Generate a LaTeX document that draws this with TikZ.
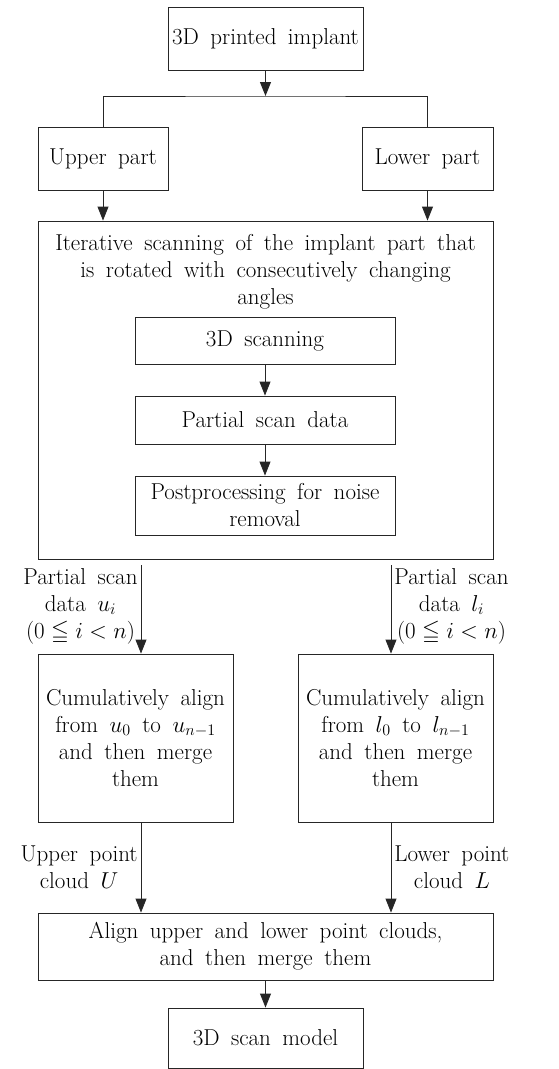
\RequirePackage{fix-cm}
\documentclass[tikz,border=0pt]{standalone}
\usepackage{amssymb}
\usepackage{fontspec}
\usetikzlibrary{arrows.meta,positioning,calc}
\newcommand{\chartfont}{\fontsize{23}{27}\selectfont\spaceskip=0.5em plus 0.1em minus 0.15em}
\tikzset{
  stepbox/.style={rectangle,draw=black!85,line width=0.9pt,align=center,
    inner sep=2pt,font=\chartfont},
  arr/.style={-{Triangle[length=14pt,width=11pt]},line width=0.9pt,draw=black!85},
  lbl/.style={font=\chartfont,align=center,inner sep=3pt},
}
\begin{document}
\begin{tikzpicture}[x=1pt,y=-1pt]
  \useasboundingbox (0,0) rectangle (559,1069);
  \node[stepbox,minimum width=195pt,minimum height=63pt] (implant) at (265.5,38.5) {3D printed implant};
  \coordinate (split) at (265.5,96);
  \node[stepbox,minimum width=130pt,minimum height=63pt] (upper) at (103,158.5) {Upper part};
  \node[stepbox,minimum width=131pt,minimum height=63pt] (lower) at (427.5,158.5) {Lower part};
  \node[stepbox,minimum width=455pt,minimum height=338pt] (iter) at (265.5,390) {};
  \node[font=\chartfont,align=center,inner sep=0pt] (itertext) at (265.5,272) {
    Iterative scanning of the implant part that\\
    is rotated with consecutively changing\\angles};
  \node[stepbox,minimum width=260pt,minimum height=47pt] (scan) at (265,340.5) {3D scanning};
  \node[stepbox,minimum width=260pt,minimum height=48pt] (partial) at (265,420) {Partial scan data};
  \node[stepbox,minimum width=260pt,minimum height=59pt] (post) at (265,505.5) {
    Postprocessing for noise\\removal};
  \node[stepbox,minimum width=195pt,minimum height=168pt] (cumuU) at (135.5,738) {
    Cumulatively align\\from $u_0$ to $u_{n-1}$\\and then merge\\them};
  \node[stepbox,minimum width=195pt,minimum height=168pt] (cumuL) at (395.5,738) {
    Cumulatively align\\from $l_0$ to $l_{n-1}$\\and then merge\\them};
  \node[stepbox,minimum width=455pt,minimum height=67pt] (merge) at (265.5,946.5) {
    Align upper and lower point clouds,\\and then merge them};
  \node[stepbox,minimum width=195pt,minimum height=60pt] (model) at (265.5,1038) {3D scan model};

  % split into the two halves
  \draw[arr] (implant) -- (split);
  \draw[line width=0.9pt,draw=black!85] (upper.north) |- (split) -| (lower.north);
  \draw[arr] (upper) -- (upper |- iter.north);
  \draw[arr] (lower) -- (lower |- iter.north);
  \draw[arr] (scan) -- (partial);
  \draw[arr] (partial) -- (post);

  % per-part alignment
  \coordinate (uin) at ([xshift=5.5pt]cumuU.north);
  \coordinate (lin) at ([xshift=-4.5pt]cumuL.north);
  \draw[arr,shorten <=6pt] (iter.south -| uin) -- (uin)
    node[lbl,midway,left] {Partial scan\\data $u_i$\\$(0\leqq i<n)$};
  \draw[arr,shorten <=6pt] (iter.south -| lin) -- (lin)
    node[lbl,midway,right] {Partial scan\\data $l_i$\\$(0\leqq i<n)$};
  \coordinate (uout) at ([xshift=5.5pt]cumuU.south);
  \coordinate (lout) at ([xshift=-4.5pt]cumuL.south);
  \draw[arr] (uout) -- (uout |- merge.north)
    node[lbl,midway,left] {Upper point\\cloud $U$};
  \draw[arr] (lout) -- (lout |- merge.north)
    node[lbl,midway,right] {Lower point\\cloud $L$};
  \draw[arr] (merge) -- (model);
\end{tikzpicture}
\end{document}
